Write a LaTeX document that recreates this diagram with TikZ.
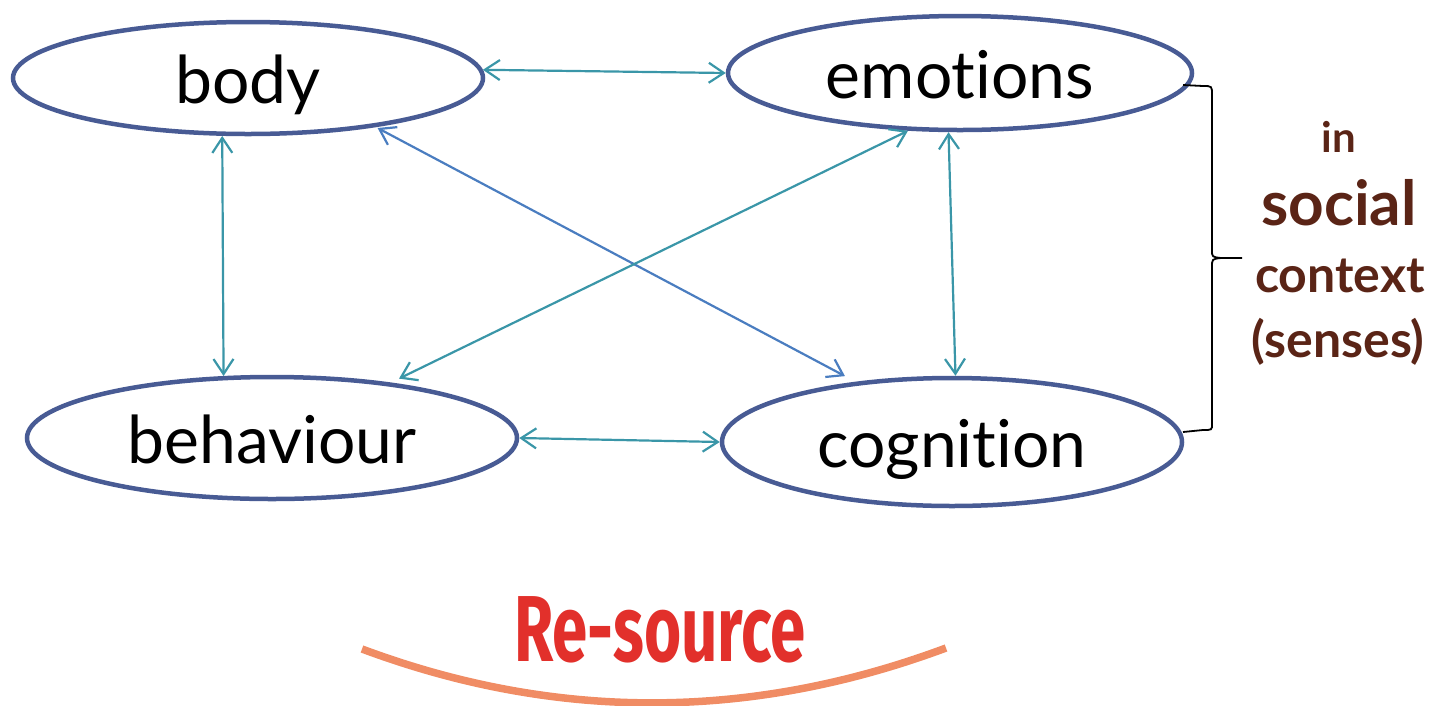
\documentclass[tikz,border=0pt]{standalone}
\usepackage{fontspec}
\usepackage{graphicx}
\setmainfont{Lato}[RawFeature={-liga}]
\newfontfamily\resfont{Fira Sans}
\usetikzlibrary{shapes.geometric,arrows.meta}
\definecolor{edgeblue}{HTML}{485B94}
\definecolor{tealline}{HTML}{3A96A8}
\definecolor{blueline}{HTML}{4A7DC0}
\definecolor{brown}{HTML}{5A2416}
\definecolor{resred}{HTML}{E2302B}
\definecolor{arcorange}{HTML}{F08C64}
\begin{document}
\begin{tikzpicture}[x=1pt,y=-1pt,
  oval/.style={ellipse, draw=edgeblue, line width=4.5pt, inner sep=0pt,
    text height=55pt, text depth=5pt, font=\fontsize{66}{70}\selectfont},
  link/.style={draw=tealline, line width=2.2pt,
    {Straight Barb[length=15pt,width=20pt]}-{Straight Barb[length=15pt,width=20pt]}},
  bluelink/.style={link, draw=blueline},
  ctx/.style={anchor=base, text=brown, font=\bfseries\fontsize{#1}{#1}\selectfont},
]
\useasboundingbox (0,0) rectangle (1438,705);

\node[oval, minimum width=470pt, minimum height=112pt] (body) at (248,78) {body};
\node[oval, minimum width=464pt, minimum height=114pt] (emotions) at (960,73) {emotions};
\node[oval, minimum width=490pt, minimum height=122pt] (behaviour) at (272,438) {behaviour};
\node[oval, minimum width=460pt, minimum height=128pt] (cognition) at (952,442) {cognition};

\draw[link] (body.2) -- (emotions.180);
\draw[link] (body.-114.5) -- (behaviour.128.4);
\draw[link] (emotions.-101.5) -- (cognition.87.3);
\draw[link] (behaviour.0) -- (cognition.180);
\draw[bluelink, shorten <=2pt, shorten >=12pt] (body.-21.2) -- (cognition.148.7);
\draw[link, shorten <=0pt, shorten >=9pt] (emotions.-132.9) -- (behaviour.25.1);

% brace
\draw[line width=1.8pt, black]
  (1183,85) -- (1203,86) .. controls (1212,86) .. (1212,95) -- (1212,250)
  .. controls (1212,257) .. (1221,258) -- (1242,258);
\draw[line width=1.8pt, black]
  (1221,258) .. controls (1212,259) .. (1212,267) -- (1212,424)
  .. controls (1212,430) .. (1203,430) -- (1183,432);

\node[ctx=42] (in) at (1339,152) {in};
\node[ctx=62] (social) at (1339,225) {social};
\node[ctx=50] (context) at (1340,292) {context};
\node[ctx=50] (senses) at (1338,357) {(senses)};

% Re-source
\draw[arcorange, line width=7.5pt] (362,649) .. controls (555,721) and (750,721) .. (946,648);
\node[anchor=base, text=resred, inner sep=0pt] (res) at (660,661)
  {\scalebox{0.7}[1.03]{\resfont\bfseries\fontsize{91}{91}\selectfont Re-source}};
\end{tikzpicture}
\end{document}
